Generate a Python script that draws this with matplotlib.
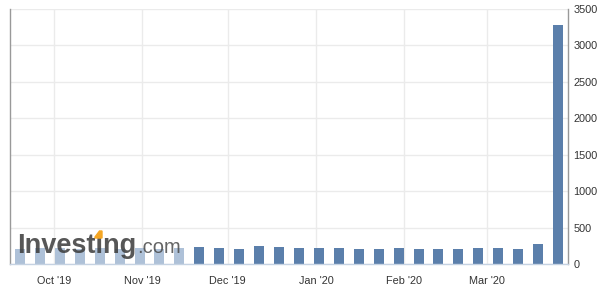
import matplotlib

matplotlib.use("Agg")

import matplotlib.pyplot as plt
import matplotlib.dates as mdates
from matplotlib.patches import Polygon

# --- Dados: pedidos iniciais de seguro-desemprego (mil), semanais ----------
datas = [
    "2019-09-19", "2019-09-26", "2019-10-03", "2019-10-10", "2019-10-17",
    "2019-10-24", "2019-10-31", "2019-11-07", "2019-11-14", "2019-11-21",
    "2019-11-28", "2019-12-05", "2019-12-12", "2019-12-19", "2019-12-26",
    "2020-01-02", "2020-01-09", "2020-01-16", "2020-01-23", "2020-01-30",
    "2020-02-06", "2020-02-13", "2020-02-20", "2020-02-27", "2020-03-05",
    "2020-03-12", "2020-03-19", "2020-03-26",
]
valores = [
    208, 213, 219, 210, 214, 212, 218, 211, 225, 227,
    213, 203, 252, 234, 222, 222, 214, 204, 211, 216,
    202, 205, 210, 219, 216, 211, 281, 3283,
]
n_antigos = 9  # barras mais claras no início
rotulos_y = [0, 500, 1000, 1500, 2000, 2500, 3000, 3500]
meses = ["2019-10-01", "2019-11-01", "2019-12-01", "2020-01-01", "2020-02-01", "2020-03-01"]
rotulos_meses = ["Oct '19", "Nov '19", "Dec '19", "Jan '20", "Feb '20", "Mar '20"]

COR_ESCURA = "#5b7fab"
COR_CLARA = "#aec1d8"
FONTE = "Liberation Sans"

x = mdates.datestr2num(datas)
cores = [COR_CLARA] * n_antigos + [COR_ESCURA] * (len(valores) - n_antigos)

fig = plt.figure(figsize=(6.06, 2.94), dpi=100)
ax = fig.add_axes([10 / 606, 30 / 294, 558 / 606, 255 / 294])

ax.bar(x, valores, width=3.5, color=cores, zorder=2)

ax.set_ylim(0, 3500)
ax.set_xlim(x[0] - 3.5, x[-1] + 3.5)
ax.set_yticks(rotulos_y)
ax.yaxis.tick_right()
ax.set_xticks(mdates.datestr2num(meses))
ax.set_xticklabels(rotulos_meses)
ax.tick_params(axis="both", length=0, labelsize=7.8, colors="#333333")
ax.tick_params(axis="x", pad=9)
ax.tick_params(axis="y", pad=4)
for lbl in ax.get_xticklabels() + ax.get_yticklabels():
    lbl.set_family(FONTE)
ax.grid(True, color="#ebebeb", linewidth=1, zorder=0)

ax.spines["top"].set_visible(False)
ax.spines["left"].set_color("#999999")
ax.spines["right"].set_color("#999999")
ax.spines["bottom"].set_color("#c5d2e2")
for s in ax.spines.values():
    s.set_linewidth(1)

# Marca d'água Investing.com
x0, base = 17 / 606, 1 - 253 / 294
t_inv = fig.text(x0, base, "Investing", fontsize=19.5, fontweight="bold",
                 family=FONTE, color="#3a3a3a", alpha=0.85, ha="left",
                 va="baseline", zorder=5)
fig.canvas.draw()
r = fig.canvas.get_renderer()
larg_total = t_inv.get_window_extent(r).width
medida = fig.text(x0, base, "Invest", fontsize=19.5, fontweight="bold", family=FONTE)
larg_pref = medida.get_window_extent(r).width
medida.remove()

fig.text((17 + larg_total + 1) / 606, base, ".com", fontsize=14.5, family=FONTE,
         color="#4a4a4a", alpha=0.85, ha="left", va="baseline", zorder=5)

xi = 17 + larg_pref  # início do "i" de "ting"
fig.patches.append(Polygon(
    [((xi - 0.5) / 606, 1 - 237 / 294), ((xi + 4) / 606, 1 - 231 / 294),
     ((xi + 6.5) / 606, 1 - 231 / 294), ((xi + 6.5) / 606, 1 - 238 / 294),
     ((xi - 0.5) / 606, 1 - 238 / 294)],
    closed=True, transform=fig.transFigure, color="#f5a623", zorder=6))

fig.savefig("out.png", dpi=100, facecolor="white")
